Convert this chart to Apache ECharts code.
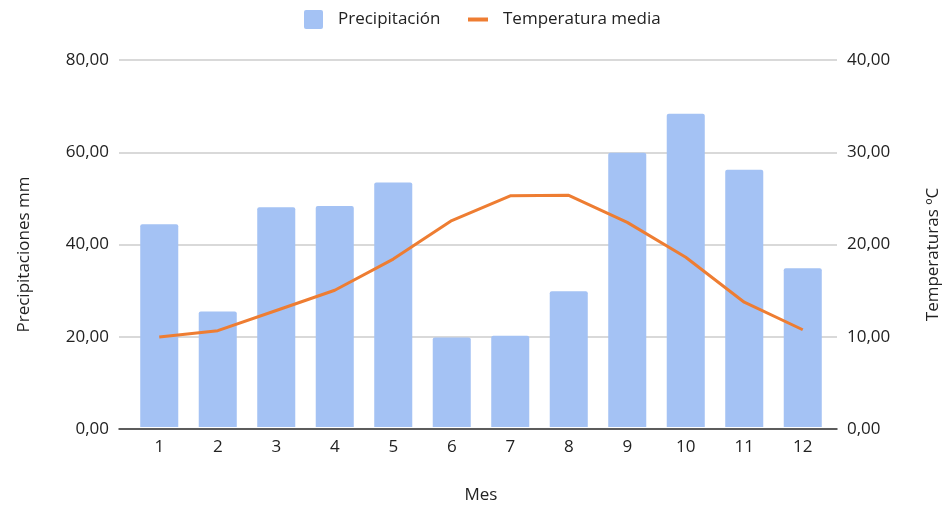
<!DOCTYPE html>
<html>
<head>
<meta charset="utf-8">
<script src="https://cdn.jsdelivr.net/npm/echarts@6/dist/echarts.min.js"></script>
<style>html,body{margin:0;padding:0;background:#fff}#c{width:950px;height:509px}</style>
</head>
<body>
<div id="c"></div>
<script>
var months = ['1','2','3','4','5','6','7','8','9','10','11','12'];
var precipitacion = [44.2, 25.2, 47.9, 48.2, 53.3, 19.5, 19.9, 29.6, 59.8, 68.3, 56.1, 34.6];
var temperatura = [9.8, 10.5, 12.7, 14.9, 18.3, 22.5, 25.2, 25.25, 22.3, 18.5, 13.6, 10.6];
var leftTicks = {min: 0, max: 80, interval: 20};
var rightTicks = {min: 0, max: 40, interval: 10};

var FONT = 'Open Sans';
var TXT = '#222222';
function fmt(v){ return v.toFixed(2).replace('.', ','); }

var chart = echarts.init(document.getElementById('c'), null, {renderer: 'canvas'});
chart.setOption({
  animation: false,
  backgroundColor: '#ffffff',
  textStyle: {fontFamily: FONT},
  legend: [
    {data: ['Precipitación'], left: 304, top: 10, padding: 0, itemWidth: 19, itemHeight: 19,
     icon: 'path://M2,0 H17 Q19,0 19,2 V17 Q19,19 17,19 H2 Q0,19 0,17 V2 Q0,0 2,0 Z',
     textStyle: {fontFamily: FONT, fontSize: 17, color: TXT, padding: [0,0,0,10]}},
    {data: ['Temperatura media'], left: 468, top: 11, padding: 0, itemWidth: 20, itemHeight: 4,
     icon: 'rect', textStyle: {fontFamily: FONT, fontSize: 17, color: TXT, padding: [0,0,0,10]}}
  ],
  grid: [
    {left: 130, right: 118, top: 60, bottom: 80},
    {left: 119, right: 107, top: 60, bottom: 80}
  ],
  xAxis: [
    {type: 'category', gridIndex: 0, data: months, boundaryGap: true,
     axisLine: {show: false}, axisTick: {show: false},
     axisLabel: {fontFamily: FONT, fontSize: 17, color: TXT, margin: 12},
     name: 'Mes', nameLocation: 'middle', nameGap: 60,
     nameTextStyle: {fontFamily: FONT, fontSize: 17, color: TXT}},
    {type: 'value', gridIndex: 1, min: 0, max: 1,
     axisLine: {show: true, onZero: false, lineStyle: {color: '#333333', width: 1.5}},
     axisTick: {show: false}, axisLabel: {show: false}, splitLine: {show: false}}
  ],
  yAxis: [
    {type: 'value', gridIndex: 0, min: leftTicks.min, max: leftTicks.max, interval: leftTicks.interval, show: false},
    {type: 'value', gridIndex: 0, min: rightTicks.min, max: rightTicks.max, interval: rightTicks.interval, show: false},
    {type: 'value', gridIndex: 1, position: 'left', min: leftTicks.min, max: leftTicks.max, interval: leftTicks.interval,
     axisLine: {show: false}, axisTick: {show: false},
     axisLabel: {fontFamily: FONT, fontSize: 17, color: TXT, margin: 10, formatter: fmt},
     splitLine: {show: true, lineStyle: {color: '#cccccc', width: 1.5}},
     name: 'Precipitaciones mm', nameLocation: 'middle', nameGap: 86,
     nameTextStyle: {fontFamily: FONT, fontSize: 17, color: TXT, padding: [0, 20, 0, 0]}},
    {type: 'value', gridIndex: 1, position: 'right', min: rightTicks.min, max: rightTicks.max, interval: rightTicks.interval,
     axisLine: {show: false}, axisTick: {show: false},
     axisLabel: {fontFamily: FONT, fontSize: 17, color: TXT, margin: 10, formatter: fmt},
     splitLine: {show: false},
     name: 'Temperaturas ºC', nameLocation: 'middle', nameGap: 88,
     nameTextStyle: {fontFamily: FONT, fontSize: 17, color: TXT, padding: [0, 20, 0, 0]}}
  ],
  series: [
    {name: 'Precipitación', type: 'bar', xAxisIndex: 0, yAxisIndex: 0, data: precipitacion,
     barWidth: '65%', itemStyle: {color: '#A4C2F4', borderRadius: [2, 2, 0, 0]}},
    {name: 'Temperatura media', type: 'line', xAxisIndex: 0, yAxisIndex: 1, data: temperatura,
     symbol: 'none', z: 5, lineStyle: {color: '#EE7D32', width: 3}, itemStyle: {color: '#EE7D32'}}
  ]
});
</script>
</body>
</html>
